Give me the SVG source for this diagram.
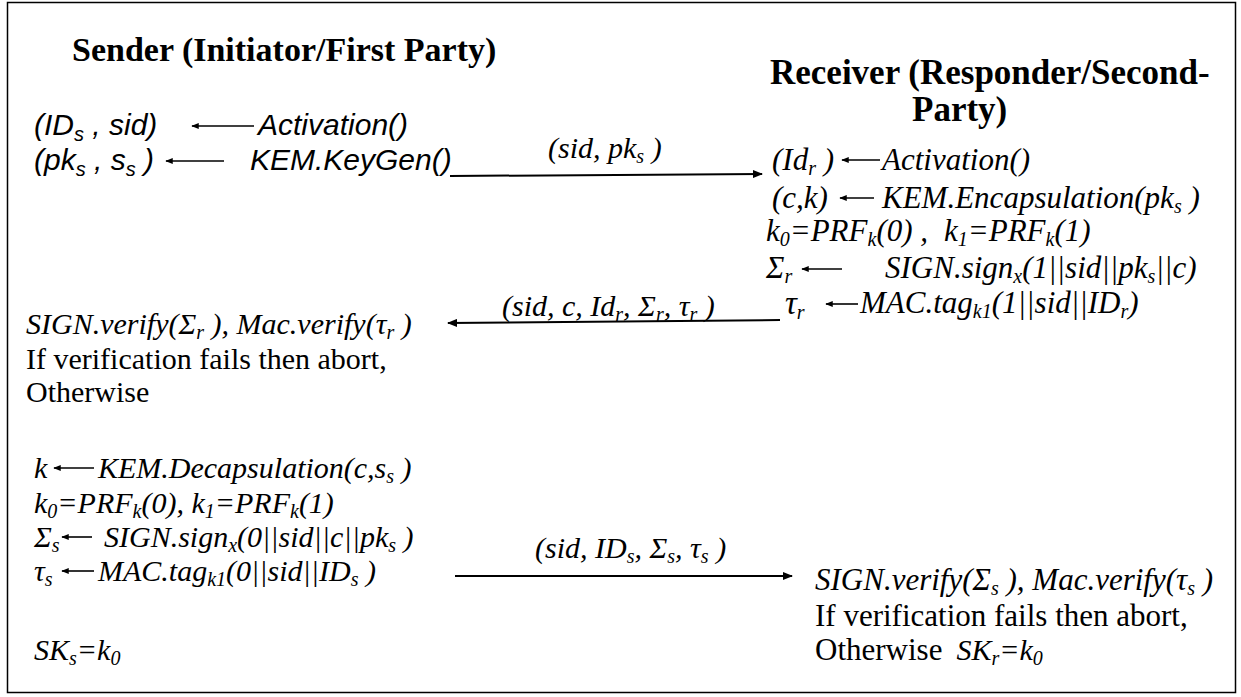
<svg xmlns="http://www.w3.org/2000/svg" width="1241" height="697" viewBox="0 0 1241 697">
  <style>
    .hd { font-family: "Liberation Serif", "Times New Roman", serif; font-weight: bold; font-size: 34px; fill: #000; }
    .ar { font-family: "Liberation Sans", Arial, sans-serif; font-style: italic; font-size: 30px; fill: #000; }
    .ti { font-family: "Liberation Serif", "Times New Roman", serif; font-style: italic; font-size: 30px; fill: #000; }
    .tr { font-family: "Liberation Serif", "Times New Roman", serif; font-size: 30px; fill: #000; }
    .rc { font-size: 31px; }
    .sb { font-size: 20px; }
    .ln { stroke: #000; stroke-width: 2; fill: none; }
    .sm { stroke: #000; stroke-width: 1.6; fill: none; }
  </style>
  <defs>
    <marker id="head" viewBox="0 0 10 8" refX="9" refY="4" markerWidth="10" markerHeight="8" markerUnits="userSpaceOnUse" orient="auto">
      <path d="M0,0 L10,4 L0,8 Z" fill="#000"/>
    </marker>
    <marker id="tip" viewBox="0 0 10 8" refX="9" refY="4" markerWidth="8" markerHeight="6" markerUnits="userSpaceOnUse" orient="auto">
      <path d="M0,0 L10,4 L0,8 Z" fill="#000"/>
    </marker>
  </defs>

  <rect x="7.5" y="2.5" width="1228" height="690" fill="#fff" stroke="#000" stroke-width="1.5"/>

  <!-- column headings -->
  <g id="sender-title">
    <text class="hd" x="72" y="61">Sender (Initiator/First Party)</text>
  </g>
  <g id="receiver-title">
    <text class="hd" x="770" y="84" style="font-size:35px">Receiver (Responder/Second-</text>
    <text class="hd" x="912" y="121" style="font-size:35px">Party)</text>
  </g>

  <!-- sender: activation and key generation -->
  <g id="sender-setup">
    <text class="ar" x="34" y="135">(ID<tspan class="sb" dy="6">s</tspan><tspan dy="-6"> , sid)</tspan></text>
    <text class="ar" x="258" y="135">Activation()</text>
    <text class="ar" x="34" y="170">(pk<tspan class="sb" dy="6">s</tspan><tspan dy="-6"> , s</tspan><tspan class="sb" dy="6">s</tspan><tspan dy="-6"> )</tspan></text>
    <text class="ar" x="250" y="170">KEM.KeyGen()</text>
    <line class="sm" x1="254" y1="126" x2="192" y2="126" marker-end="url(#tip)"/>
    <line class="sm" x1="224" y1="161" x2="166" y2="161" marker-end="url(#tip)"/>
  </g>

  <!-- receiver: encapsulation, key derivation, signature and tag -->
  <g id="receiver-response">
    <text class="ti rc" x="772" y="170">(Id<tspan class="sb" dy="5">r</tspan><tspan dy="-5"> )</tspan></text>
    <text class="ti rc" x="882" y="170">Activation()</text>
    <line class="sm" x1="880" y1="160" x2="842" y2="160" marker-end="url(#tip)"/>
    <text class="ti rc" x="772" y="208">(c,k)</text>
    <line class="sm" x1="874" y1="198" x2="840" y2="198" marker-end="url(#tip)"/>
    <text class="ti rc" x="882" y="208">KEM.Encapsulation(pk<tspan class="sb" dy="5">s</tspan><tspan dy="-5"> )</tspan></text>
    <text class="ti rc" x="766" y="241">k<tspan class="sb" dy="5">0</tspan><tspan dy="-5">=PRF</tspan><tspan class="sb" dy="5">k</tspan><tspan dy="-5">(0) ,</tspan><tspan dx="16">k</tspan><tspan class="sb" dy="5">1</tspan><tspan dy="-5">=PRF</tspan><tspan class="sb" dy="5">k</tspan><tspan dy="-5">(1)</tspan></text>
    <text class="ti rc" x="766" y="278">Σ<tspan class="sb" dy="5">r</tspan></text>
    <line class="sm" x1="842" y1="269" x2="802" y2="269" marker-end="url(#tip)"/>
    <text class="ti rc" x="885" y="278">SIGN.sign<tspan class="sb" dy="5">x</tspan><tspan dy="-5">(1||sid||pk</tspan><tspan class="sb" dy="5">s</tspan><tspan dy="-5">||c)</tspan></text>
    <text class="ti" x="785" y="314" style="font-size:33px">τ<tspan class="sb" dy="5">r</tspan></text>
    <line class="sm" x1="858" y1="304" x2="826" y2="304" marker-end="url(#tip)"/>
    <text class="ti rc" x="860" y="313">MAC.tag<tspan class="sb" dy="5">k1</tspan><tspan dy="-5">(1||sid||ID</tspan><tspan class="sb" dy="5">r</tspan><tspan dy="-5">)</tspan></text>
  </g>

  <!-- sender: verification of the response -->
  <g id="sender-verify">
    <text class="ti" x="26" y="334">SIGN.verify(Σ<tspan class="sb" dy="5">r</tspan><tspan dy="-5"> ), Mac.verify(τ</tspan><tspan class="sb" dy="5">r</tspan><tspan dy="-5"> )</tspan></text>
    <text class="tr" x="26" y="369">If verification fails then abort,</text>
    <text class="tr" x="26" y="402">Otherwise</text>
  </g>

  <!-- sender: decapsulation, key derivation, signature and tag -->
  <g id="sender-confirm">
    <text class="ti" x="34" y="478">k</text>
    <line class="sm" x1="94" y1="468" x2="54" y2="468" marker-end="url(#tip)"/>
    <text class="ti" x="98" y="478">KEM.Decapsulation(c,s<tspan class="sb" dy="5">s</tspan><tspan dy="-5"> )</tspan></text>
    <text class="ti" x="34" y="513">k<tspan class="sb" dy="5">0</tspan><tspan dy="-5">=PRF</tspan><tspan class="sb" dy="5">k</tspan><tspan dy="-5">(0), k</tspan><tspan class="sb" dy="5">1</tspan><tspan dy="-5">=PRF</tspan><tspan class="sb" dy="5">k</tspan><tspan dy="-5">(1)</tspan></text>
    <text class="ti" x="34" y="547">Σ<tspan class="sb" dy="5">s</tspan></text>
    <line class="sm" x1="92" y1="537" x2="62" y2="537" marker-end="url(#tip)"/>
    <text class="ti" x="104" y="547">SIGN.sign<tspan class="sb" dy="5">x</tspan><tspan dy="-5">(0||sid||c||pk</tspan><tspan class="sb" dy="5">s</tspan><tspan dy="-5"> )</tspan></text>
    <text class="ti" x="34" y="581">τ<tspan class="sb" dy="5">s</tspan></text>
    <line class="sm" x1="94" y1="571" x2="62" y2="571" marker-end="url(#tip)"/>
    <text class="ti" x="98" y="581">MAC.tag<tspan class="sb" dy="5">k1</tspan><tspan dy="-5">(0||sid||ID</tspan><tspan class="sb" dy="5">s</tspan><tspan dy="-5"> )</tspan></text>
    <text class="ti" x="34" y="660">SK<tspan class="sb" dy="5">s</tspan><tspan dy="-5">=k</tspan><tspan class="sb" dy="5">0</tspan></text>
  </g>

  <!-- receiver: verification of the confirmation -->
  <g id="receiver-verify">
    <text class="ti" x="815" y="590" style="font-size:31px">SIGN.verify(Σ<tspan class="sb" dy="5">s</tspan><tspan dy="-5"> ), Mac.verify(τ</tspan><tspan class="sb" dy="5">s</tspan><tspan dy="-5"> )</tspan></text>
    <text class="tr" x="815" y="626" style="font-size:31px">If verification fails then abort,</text>
    <text class="tr" x="815" y="660" style="font-size:31px">Otherwise<tspan class="ti" dx="14">SK</tspan><tspan class="ti sb" dy="5">r</tspan><tspan class="ti" dy="-5">=k</tspan><tspan class="ti sb" dy="5">0</tspan></text>
  </g>

  <!-- messages exchanged between the parties -->
  <g id="messages">
    <line class="ln" x1="450" y1="176" x2="762" y2="174" marker-end="url(#head)"/>
    <text class="ti" x="548" y="158">(sid, pk<tspan class="sb" dy="5">s</tspan><tspan dy="-5"> )</tspan></text>
    <line class="ln" x1="780" y1="320" x2="448" y2="323" marker-end="url(#head)"/>
    <text class="ti" x="502" y="316">(sid, c, Id<tspan class="sb" dy="5">r</tspan><tspan dy="-5">, Σ</tspan><tspan class="sb" dy="5">r</tspan><tspan dy="-5">, τ</tspan><tspan class="sb" dy="5">r</tspan><tspan dy="-5"> )</tspan></text>
    <line class="ln" x1="455" y1="576" x2="792" y2="576" marker-end="url(#head)"/>
    <text class="ti" x="535" y="558">(sid, ID<tspan class="sb" dy="5">s</tspan><tspan dy="-5">, Σ</tspan><tspan class="sb" dy="5">s</tspan><tspan dy="-5">, τ</tspan><tspan class="sb" dy="5">s</tspan><tspan dy="-5"> )</tspan></text>
  </g>
</svg>
